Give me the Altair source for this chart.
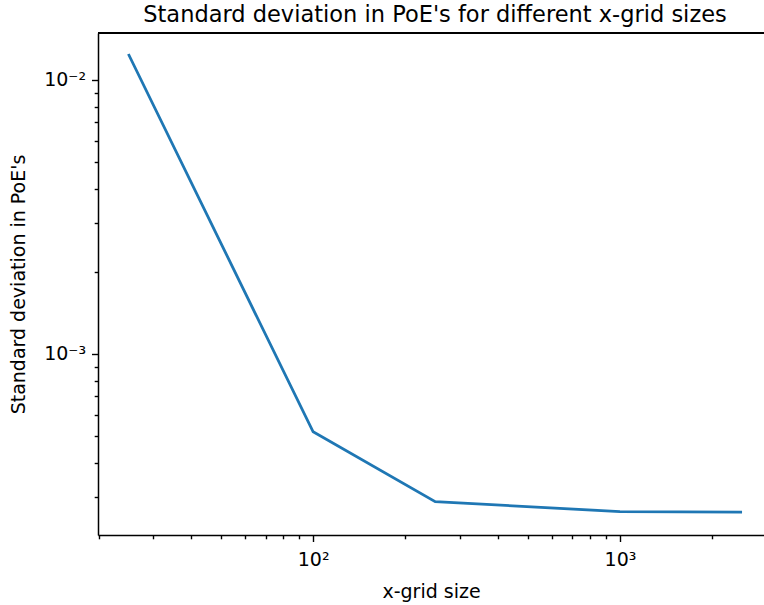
import altair as alt
import pandas as pd

grid_sizes = [25, 100, 250, 1000, 2500]
std_devs = [0.01244, 0.000520, 0.000289, 0.000266, 0.000265]

x_ticks = [20, 30, 40, 50, 60, 70, 80, 90, 100, 200, 300, 400, 500, 600, 700, 800, 900, 1000, 2000]
y_ticks = [0.0003, 0.0004, 0.0005, 0.0006, 0.0007, 0.0008, 0.0009, 0.001,
           0.002, 0.003, 0.004, 0.005, 0.006, 0.007, 0.008, 0.009, 0.01]

df = pd.DataFrame({"x": grid_sizes, "y": std_devs})

FONT = "DejaVu Sans"

x_axis = alt.Axis(
    title="x-grid size",
    values=x_ticks,
    labelExpr="datum.value == 100 ? '10²' : datum.value == 1000 ? '10³' : ''",
    tickSize={"condition": {"test": "datum.value == 100 || datum.value == 1000", "value": 6.5}, "value": 3.8},
    tickColor="black", tickWidth=1.4, domainColor="black", domainWidth=1.5,
    labelFont=FONT, labelFontSize=19, labelColor="black", labelPadding=9,
    labelOverlap=False, labelFlush=False,
    titleFont=FONT, titleFontSize=19, titleFontWeight="normal", titleColor="black",
    titlePadding=13, grid=False,
)
y_axis = alt.Axis(
    title="Standard deviation in PoE's",
    values=y_ticks,
    labelExpr="datum.value == 0.01 ? '10⁻²' : datum.value == 0.001 ? '10⁻³' : ''",
    tickSize={"condition": {"test": "datum.value == 0.01 || datum.value == 0.001", "value": 6.5}, "value": 3.8},
    tickColor="black", tickWidth=1.4, domainColor="black", domainWidth=1.5,
    labelFont=FONT, labelFontSize=19, labelColor="black", labelPadding=6,
    labelOverlap=False, labelFlush=False,
    titleFont=FONT, titleFontSize=19, titleFontWeight="normal", titleColor="black",
    titlePadding=15, grid=False,
)

line = alt.Chart(df).mark_line(color="#1f77b4", strokeWidth=2.8, clip=True).encode(
    x=alt.X("x:Q", scale=alt.Scale(type="log", domain=[19.9, 2948], nice=False), axis=x_axis),
    y=alt.Y("y:Q", scale=alt.Scale(type="log", domain=[0.0002185, 0.01484], nice=False), axis=y_axis),
)

top = alt.Chart(df).mark_rule(color="black", strokeWidth=1.5).encode(
    x=alt.value(0), x2=alt.value(666), y=alt.value(0)
)

chart = alt.layer(line, top).properties(
    width=666,
    height=502,
    autosize=alt.AutoSizeParams(type="none"),
    padding={"left": 98, "top": 33, "right": 0, "bottom": 70},
    title=alt.TitleParams(
        "Standard deviation in PoE's for different x-grid sizes",
        font=FONT, fontSize=22.5, fontWeight="normal", color="black",
        anchor="middle", offset=6, dx=4,
    ),
).configure_view(stroke=None).configure(background="white")

chart.save("out.html", embed_options={"renderer": "svg", "actions": False})
